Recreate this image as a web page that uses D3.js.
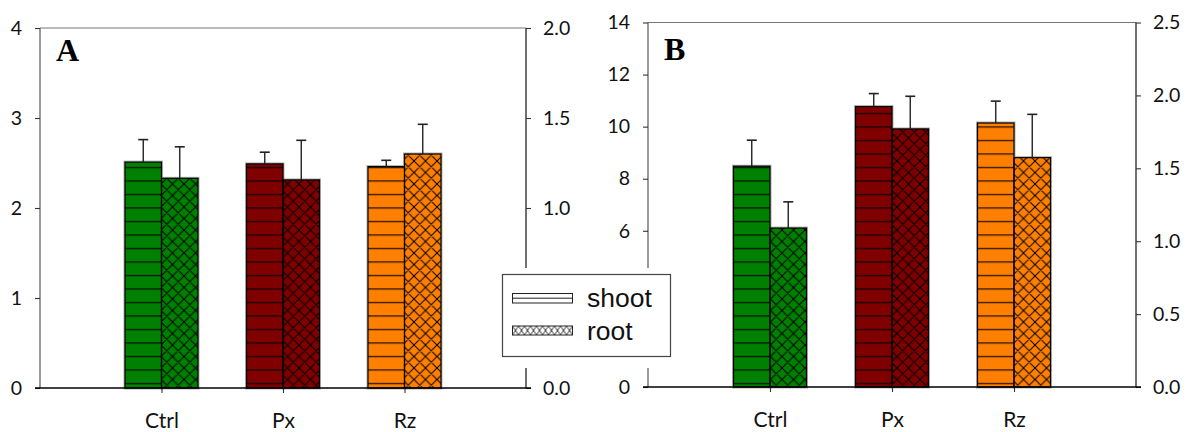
<!DOCTYPE html>
<html>
<head>
<meta charset="utf-8">
<script src="https://cdn.jsdelivr.net/npm/d3@7"></script>
<style>
  html, body { margin: 0; padding: 0; background: #fff; }
  svg { display: block; }
  .tick text { font-family: Lato, "Open Sans", sans-serif; font-size: 19.5px; fill: #111; }
  .xaxis .tick text { font-size: 21px; }
</style>
</head>
<body>
<script>
// Treatments on the x axis
const categories = ["Ctrl", "Px", "Rz"];

// Panel A: shoot (left axis) and root (right axis) means with upper error
const shootA = [2.51, 2.49, 2.46];
const shootAErr = [0.25, 0.13, 0.07];
const rootA = [1.165, 1.156, 1.30];
const rootAErr = [0.175, 0.22, 0.165];

// Panel B: shoot (left axis) and root (right axis) means with upper error
const shootB = [8.48, 10.77, 10.14];
const shootBErr = [1.00, 0.50, 0.84];
const rootB = [1.09, 1.77, 1.573];
const rootBErr = [0.18, 0.224, 0.297];

// Axis tick values
const leftTicksA = [0, 1, 2, 3, 4];
const rightTicksA = [0, 0.5, 1.0, 1.5, 2.0];
const leftTicksB = [0, 2, 4, 6, 8, 10, 12, 14];
const rightTicksB = [0, 0.5, 1.0, 1.5, 2.0, 2.5];

const colors = ["#008000", "#800000", "#ff8000"];

// Legend box (white backing panel that sits over the inner axes)
const legendBack = { x: 488, y: 268, w: 196, h: 100 };

const svg = d3.select("body").append("svg")
  .attr("width", 1193).attr("height", 432);

const defs = svg.append("defs");

// Horizontal line hatch for shoot bars
const hp = defs.append("pattern").attr("id", "hlines")
  .attr("patternUnits", "userSpaceOnUse")
  .attr("width", 20).attr("height", 13.5);
hp.append("line").attr("x1", 0).attr("x2", 20).attr("y1", 5.5).attr("y2", 5.5)
  .attr("stroke", "#000").attr("stroke-width", 1.2).attr("stroke-opacity", 0.9);

// Diagonal cross hatch for root bars
const cs = 11.5;
const xp = defs.append("pattern").attr("id", "xhatch")
  .attr("patternUnits", "userSpaceOnUse")
  .attr("width", cs).attr("height", cs);
xp.append("path")
  .attr("d", `M0,0L${cs},${cs}M${cs},0L0,${cs}M-1,1L1,-1M${cs - 1},${cs + 1}L${cs + 1},${cs - 1}M-1,${cs - 1}L1,${cs + 1}M${cs - 1},-1L${cs + 1},1`)
  .attr("stroke", "#000").attr("stroke-width", 1).attr("fill", "none");

// Small cross hatch used by the legend swatch
const lp = defs.append("pattern").attr("id", "xhatchLegend")
  .attr("patternUnits", "userSpaceOnUse")
  .attr("x", 512.5).attr("y", 326)
  .attr("width", 12).attr("height", 9);
lp.append("path").attr("d", "M0,0L6,9L12,0M0,9L6,0L12,9")
  .attr("stroke", "#222").attr("stroke-width", 0.9).attr("fill", "none");

function drawPanel(cfg) {
  const g = svg.append("g");
  const x = d3.scalePoint().domain(categories).range([cfg.left, cfg.right]).padding(1);
  const xs = d3.scaleBand().domain(["shoot", "root"]).range([-36.5, 36.5]);
  const yL = d3.scaleLinear().domain([0, cfg.leftMax]).range([cfg.bottom, cfg.top]);
  const yR = d3.scaleLinear().domain([0, cfg.rightMax]).range([cfg.bottom, cfg.top]);

  const bars = [];
  categories.forEach((c, i) => {
    bars.push({ cat: c, kind: "shoot", v: cfg.shoot[i], e: cfg.shootErr[i], y: yL, color: colors[i], pat: "url(#hlines)" });
    bars.push({ cat: c, kind: "root", v: cfg.root[i], e: cfg.rootErr[i], y: yR, color: colors[i], pat: "url(#xhatch)" });
  });

  const bx = d => x(d.cat) + xs(d.kind);
  const by = d => d.y(d.v);
  const bh = d => cfg.bottom - d.y(d.v);

  // soft grey halo around each bar
  g.selectAll("rect.halo").data(bars).join("rect").attr("class", "halo")
    .attr("x", bx).attr("y", by).attr("width", xs.bandwidth()).attr("height", bh)
    .attr("fill", "none").attr("stroke", "#b0b0b0").attr("stroke-width", 3);
  g.selectAll("rect.fill").data(bars).join("rect").attr("class", "fill")
    .attr("x", bx).attr("y", by).attr("width", xs.bandwidth()).attr("height", bh)
    .attr("fill", d => d.color);
  g.selectAll("rect.hatch").data(bars).join("rect").attr("class", "hatch")
    .attr("x", bx).attr("y", by).attr("width", xs.bandwidth()).attr("height", bh)
    .attr("fill", d => d.pat);
  g.selectAll("rect.outline").data(bars).join("rect").attr("class", "outline")
    .attr("x", bx).attr("y", by).attr("width", xs.bandwidth()).attr("height", bh)
    .attr("fill", "none").attr("stroke", "#000").attr("stroke-width", 1.2);

  // upper error bars
  const ex = d => bx(d) + xs.bandwidth() / 2;
  g.selectAll("line.err").data(bars).join("line").attr("class", "err")
    .attr("x1", ex).attr("x2", ex)
    .attr("y1", by).attr("y2", d => d.y(d.v + d.e))
    .attr("stroke", "#222").attr("stroke-width", 1.4);
  g.selectAll("line.cap").data(bars).join("line").attr("class", "cap")
    .attr("x1", d => ex(d) - 5).attr("x2", d => ex(d) + 5)
    .attr("y1", d => d.y(d.v + d.e)).attr("y2", d => d.y(d.v + d.e))
    .attr("stroke", "#222").attr("stroke-width", 1.6);

  // frame: top border, left and right axis lines
  g.append("line").attr("x1", cfg.left).attr("x2", cfg.right)
    .attr("y1", cfg.top).attr("y2", cfg.top).attr("stroke", "#777").attr("stroke-width", 1);
  g.append("line").attr("x1", cfg.left).attr("x2", cfg.left)
    .attr("y1", cfg.top).attr("y2", cfg.bottom).attr("stroke", "#555").attr("stroke-width", 1.2);
  g.append("line").attr("x1", cfg.right).attr("x2", cfg.right)
    .attr("y1", cfg.top).attr("y2", cfg.bottom).attr("stroke", "#111").attr("stroke-width", 1.2);

  const axL = g.append("g").attr("transform", `translate(${cfg.left},0)`)
    .call(d3.axisLeft(yL).tickValues(cfg.leftTicks).tickSize(5).tickPadding(13).tickFormat(d3.format("d")));
  const axR = g.append("g").attr("transform", `translate(${cfg.right},0)`)
    .call(d3.axisRight(yR).tickValues(cfg.rightTicks).tickSize(5).tickPadding(12).tickFormat(d3.format(".1f")));
  const axB = g.append("g").attr("class", "xaxis").attr("transform", `translate(0,${cfg.bottom})`)
    .call(d3.axisBottom(x).tickSize(5).tickPadding(20));
  [axL, axR, axB].forEach(a => {
    a.select(".domain").remove();
    a.selectAll(".tick line").attr("stroke", "#333").attr("stroke-width", 1.1);
  });
  axB.selectAll(".tick text").attr("dy", "0.71em");

  // tick labels that fall under the legend panel stay hidden behind it
  [axL, axR].forEach(a => {
    a.selectAll(".tick text").each(function () {
      const b = this.getBoundingClientRect();
      const inside = b.right > legendBack.x && b.left < legendBack.x + legendBack.w &&
                     b.bottom > legendBack.y && b.top < legendBack.y + legendBack.h;
      if (inside) d3.select(this).remove();
    });
  });

  // baseline
  g.append("line").attr("x1", cfg.left - 5).attr("x2", cfg.right + 5)
    .attr("y1", cfg.bottom).attr("y2", cfg.bottom).attr("stroke", "#000").attr("stroke-width", 1.4);

  g.append("text").attr("x", cfg.left + 16).attr("y", cfg.labelY)
    .attr("font-family", "'Liberation Serif', 'Times New Roman', serif")
    .attr("font-weight", "bold").attr("font-size", 32).attr("fill", "#000")
    .text(cfg.label);
}

drawPanel({
  left: 40, right: 526, top: 28, bottom: 388,
  leftMax: 4, rightMax: 2,
  leftTicks: leftTicksA, rightTicks: rightTicksA,
  shoot: shootA, shootErr: shootAErr, root: rootA, rootErr: rootAErr,
  label: "A", labelY: 61
});

drawPanel({
  left: 648, right: 1136, top: 22.5, bottom: 387,
  leftMax: 14, rightMax: 2.5,
  leftTicks: leftTicksB, rightTicks: rightTicksB,
  shoot: shootB, shootErr: shootBErr, root: rootB, rootErr: rootBErr,
  label: "B", labelY: 60
});

// Legend, drawn last on a white panel
const lg = svg.append("g");
lg.append("rect").attr("x", legendBack.x).attr("y", legendBack.y)
  .attr("width", legendBack.w).attr("height", legendBack.h).attr("fill", "#fff");
lg.append("rect").attr("x", 502.5).attr("y", 274.5).attr("width", 168).attr("height", 82)
  .attr("fill", "#fff").attr("stroke", "#444").attr("stroke-width", 1.2);
lg.append("rect").attr("x", 512.5).attr("y", 293.5).attr("width", 60).attr("height", 9.5)
  .attr("fill", "#fff").attr("stroke", "#222").attr("stroke-width", 1);
lg.append("line").attr("x1", 512.5).attr("x2", 572.5).attr("y1", 298.2).attr("y2", 298.2)
  .attr("stroke", "#222").attr("stroke-width", 1);
lg.append("rect").attr("x", 512.5).attr("y", 326).attr("width", 60).attr("height", 9)
  .attr("fill", "url(#xhatchLegend)").attr("stroke", "#222").attr("stroke-width", 1);
const legendItems = ["shoot", "root"];
lg.selectAll("text").data(legendItems).join("text")
  .attr("x", 587).attr("y", (d, i) => 307 + i * 33)
  .attr("font-family", "'Liberation Sans', Arial, sans-serif")
  .attr("font-size", 26.5).attr("fill", "#111")
  .text(d => d);
</script>
</body>
</html>
